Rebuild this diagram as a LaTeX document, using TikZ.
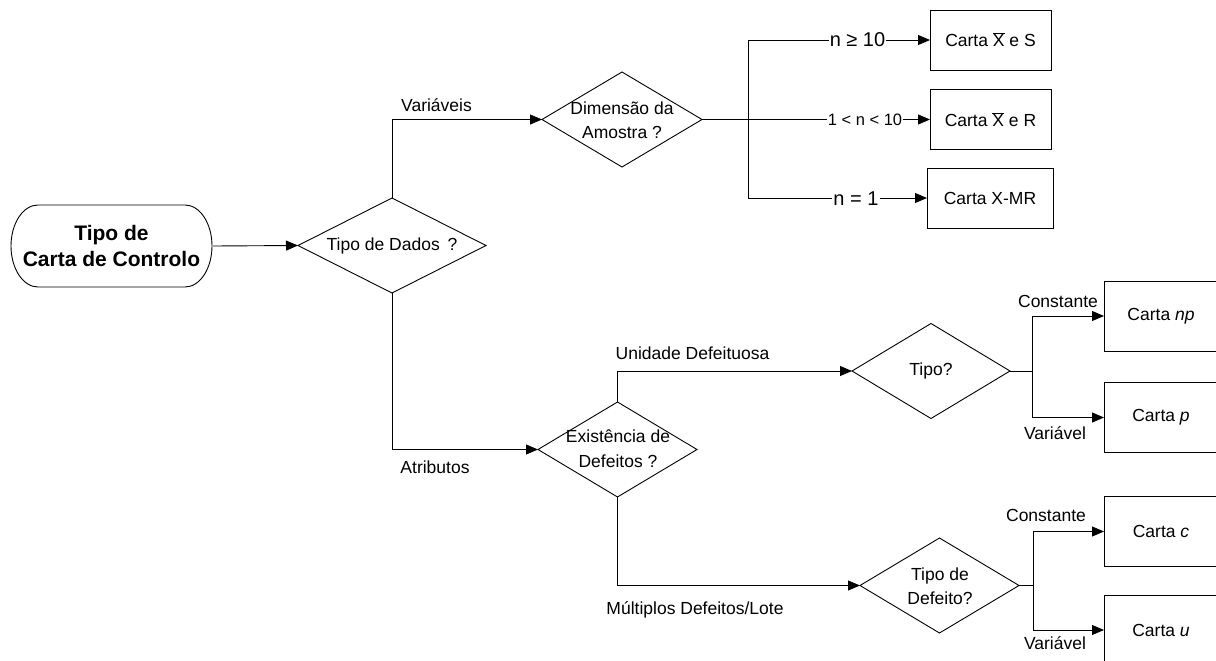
\documentclass[tikz,border=0pt]{standalone}
\usepackage{fontspec}
\setmainfont{Liberation Sans}
\usetikzlibrary{shapes.geometric,arrows.meta}

\newcommand{\xbar}{\ensuremath{\overline{\hbox{X}}}}

\begin{document}
\begin{tikzpicture}[x=1pt,y=-1pt,
  every node/.style={inner sep=0pt, outer sep=0pt},
  txt/.style={font=\fontsize{17.5}{24}\selectfont, text height=12.5pt, text depth=0pt},
  ml/.style={font=\fontsize{17.5}{24.5}\selectfont, align=center},
  big/.style={font=\fontsize{20}{24}\selectfont, text height=14pt, text depth=0pt, fill=white, inner xsep=1pt},
  link/.style={line width=0.9pt, draw=black},
  arr/.style={link, -{Triangle[length=12pt,width=10pt]}},
  decision/.style={diamond, draw, line width=0.9pt, minimum width=#1, minimum height=95pt},
  chart/.style={rectangle, draw, line width=0.9pt, minimum width=121pt, minimum height=60pt,
    font=\fontsize{17.5}{24}\selectfont},
]
\useasboundingbox (0,0) rectangle (1216,661);
\clip (0,0) rectangle (1216,661);

% start terminal with elliptic ends
\node[minimum width=203pt, minimum height=82pt, align=center,
  font=\fontsize{21}{26}\bfseries\selectfont] (start) at (111.5,246) {Tipo de\\Carta de Controlo};
\draw[link] (38,205) -- (185,205) arc[start angle=90, end angle=-90, x radius=27pt, y radius=41pt]
  -- (38,287) arc[start angle=270, end angle=90, x radius=27pt, y radius=41pt] -- cycle;

% decisions
\node[decision=188pt] (dados) at (392,245.5) {};
\node[ml] (tdados) at (dados.center) {Tipo de Dados \,?};
\node[decision=160pt] (dim) at (622,119.5) {};
\node[ml] (tdim) at (622,120) {Dimensão da\\Amostra ?};
\node[decision=159pt] (exist) at (617.5,449.5) {};
\node[ml] (texist) at (618,448.5) {Existência de\\Defeitos ?};
\node[decision=158pt] (tipo) at (931,371) {};
\node[ml] (ttipo) at (tipo.center) {Tipo?};
\node[decision=159pt] (tdef) at (939.5,585.5) {};
\node[ml] (ttdef) at (940,586) {Tipo de\\Defeito?};

% charts for variables
\node[chart] (xs) at (990.5,40) {Carta \xbar\ e S};
\node[chart] (xr) at (990.5,119.5) {Carta \xbar\ e R};
\node[chart, minimum width=126pt] (xmr) at (990,198) {Carta X-MR};

% charts for attributes
\node[chart, minimum width=114pt, minimum height=70pt] (np) at (1161,316) {Carta \textit{np}};
\node[chart, minimum width=114pt, minimum height=70pt] (p) at (1161,417.5) {Carta \textit{p}};
\node[chart, minimum width=114pt, minimum height=70pt] (c) at (1161,531.5) {Carta \textit{c}};
\node[chart, minimum width=114pt, minimum height=70pt] (u) at (1161,630) {Carta \textit{u}};

% branch points
\coordinate (jv) at (748,119.5);
\coordinate (jv1) at (748,40);
\coordinate (jv3) at (748,198);
\coordinate (ja) at (1032,371);
\coordinate (ja1) at (1032,316);
\coordinate (ja2) at (1032,417.5);
\coordinate (jb) at (1033,585.5);
\coordinate (jb1) at (1033,531.5);
\coordinate (jb2) at (1033,630);

% connectors
\draw[arr] (start.east) -- (dados.west);
\draw[arr] (dados.north) |- (dim.west);
\draw[arr] (dados.south) |- (exist.west);

\draw[link] (jv1) -- (jv3);
\draw[arr] (jv1) -- (xs.west);
\draw[arr] (dim.east) -- (xr.west);
\draw[arr] (jv3) -- (xmr.west);
\node[big] (l1) at (857.5,40) {n ≥ 10};
\node[txt, fill=white, inner xsep=1pt, font=\fontsize{16.5}{20}\selectfont] (l2) at (865,119.5) {1 < n < 10};
\node[big] (l3) at (856,198) {n = 1};

\draw[arr] (exist.north) |- (tipo.west);
\draw[arr] (exist.south) |- (tdef.west);

\draw[link] (tipo.east) -- (ja);
\draw[link] (ja1) -- (ja2);
\draw[arr] (ja1) -- (np.west);
\draw[arr] (ja2) -- (p.west);

\draw[link] (tdef.east) -- (jb);
\draw[link] (jb1) -- (jb2);
\draw[arr] (jb1) -- (c.west);
\draw[arr] (jb2) -- (u.west);

% branch labels
\node[txt] (lvar) at (436.5,105) {Variáveis};
\node[txt] (latr) at (435,467) {Atributos};
\node[txt] (lund) at (692.5,353) {Unidade Defeituosa};
\node[txt] (lmul) at (695,608) {Múltiplos Defeitos/Lote};
\node[txt] (lc1) at (1058,301) {Constante};
\node[txt] (lv1) at (1055,433) {Variável};
\node[txt] (lc2) at (1046,515) {Constante};
\node[txt] (lv2) at (1055,643) {Variável};
\end{tikzpicture}
\end{document}
